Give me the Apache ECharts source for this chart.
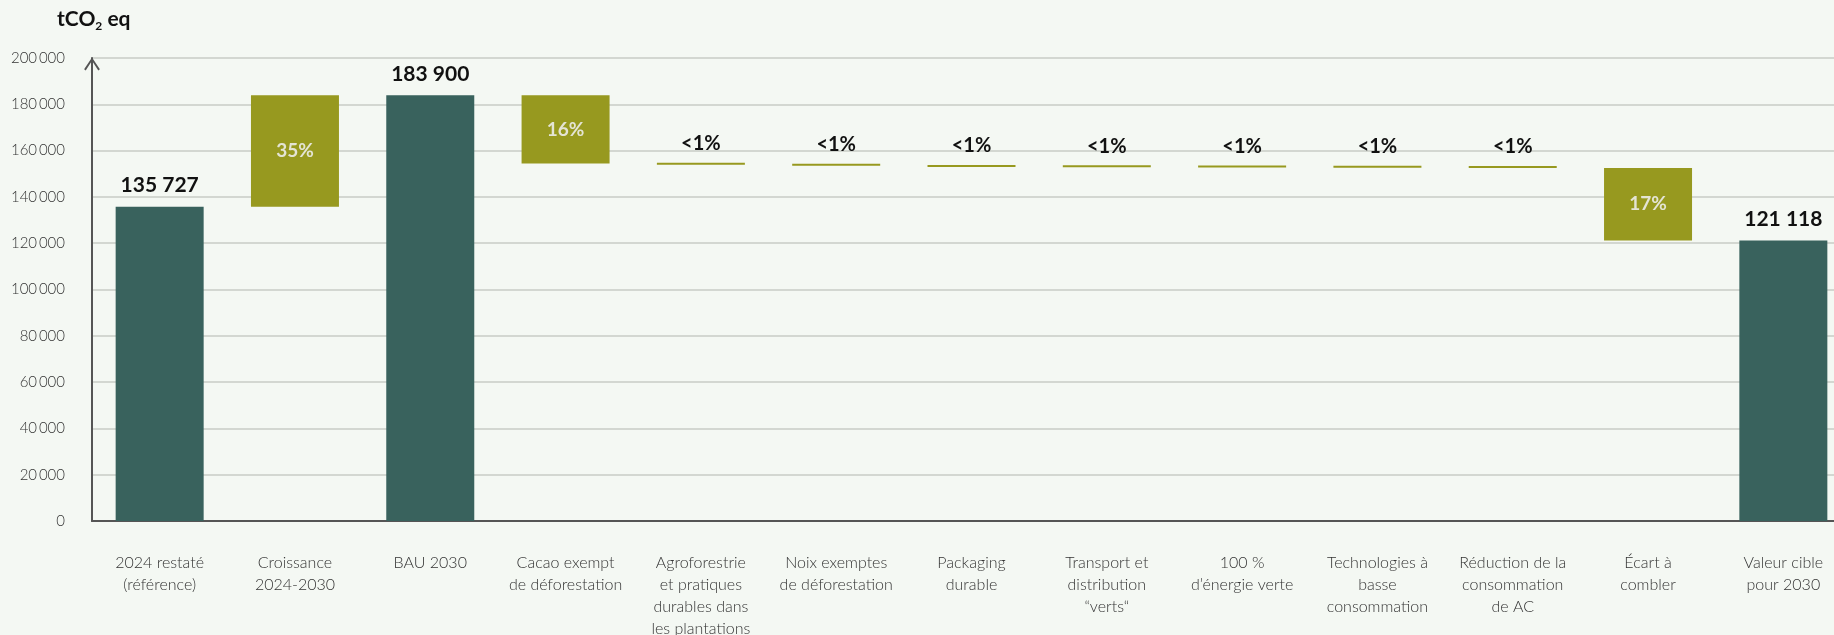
<!DOCTYPE html>
<html>
<head>
<meta charset="utf-8">
<script src="https://cdn.jsdelivr.net/npm/echarts@6/dist/echarts.min.js"></script>
<style>
  html, body { margin: 0; padding: 0; background: #f4f8f3; }
  #chart { width: 1834px; height: 635px; }
</style>
</head>
<body>
<div id="chart"></div>
<script>
// ---- Data ----
const categories = [
  '2024 restaté\n(référence)',
  'Croissance\n2024-2030',
  'BAU 2030',
  'Cacao exempt\nde déforestation',
  'Agroforestrie\net pratiques\ndurables dans\nles plantations',
  'Noix exemptes\nde déforestation',
  'Packaging\ndurable',
  'Transport et\ndistribution\n“verts“',
  '100 %\nd’énergie verte',
  'Technologies à\nbasse\nconsommation',
  'Réduction de la\nconsommation\nde AC',
  'Écart à\ncombler',
  'Valeur cible\npour 2030'
];
// kind of each step: total / increase / decrease
const kinds = ['total', 'increase', 'total', 'decrease', 'decrease', 'decrease', 'decrease',
               'decrease', 'decrease', 'decrease', 'decrease', 'decrease', 'total'];
// invisible base of each floating bar
const barBase = [0, 135727, 0, 154400, 153900, 153500, 152900, 152800, 152700, 152600, 152500, 121118, 0];
// visible height of each bar
const barHeight = [135727, 48173, 183900, 29500, 500, 400, 600, 100, 100, 100, 100, 31382, 121118];
// label texts
const barLabels = ['135 727', '35%', '183 900', '16%', '<1%', '<1%', '<1%', '<1%', '<1%', '<1%', '<1%', '17%', '121 118'];
const yTicks = [0, 20000, 40000, 60000, 80000, 100000, 120000, 140000, 160000, 180000, 200000];

// ---- Styles ----
const FONT = 'Lato, "Open Sans", sans-serif';
const TEAL = '#39625d';
const OLIVE = '#97991f';

const visibleData = barHeight.map((v, i) => {
  const isTotal = kinds[i] === 'total';
  const isBig = !isTotal && v > 5000;
  return {
    value: v,
    itemStyle: { color: isTotal ? TEAL : OLIVE },
    label: {
      show: true,
      formatter: barLabels[i],
      position: isBig ? 'inside' : 'top',
      distance: isTotal ? 11 : 9,
      color: isBig ? '#e4e4d4' : '#111111',
      fontSize: isTotal ? 21 : (isBig ? 19 : 20),
      fontWeight: 'bold',
      fontFamily: FONT
    }
  };
});

const chart = echarts.init(document.getElementById('chart'), null, { renderer: 'canvas' });
chart.setOption({
  backgroundColor: '#f4f8f3',
  animation: false,
  grid: { left: 92, top: 58, width: 1759, height: 463, containLabel: false, outerBoundsMode: 'none' },
  graphic: [{
    type: 'text',
    left: 57,
    top: 9,
    style: {
      text: '{a|tCO}{s|2}{a| eq}',
      rich: {
        a: { fontSize: 21, fontWeight: 'bold', fontFamily: FONT, fill: '#111', lineHeight: 26 },
        s: { fontSize: 12, fontWeight: 'bold', fontFamily: FONT, fill: '#111', lineHeight: 13, verticalAlign: 'bottom' }
      }
    }
  }],
  xAxis: {
    type: 'category',
    data: categories,
    axisTick: { show: false },
    axisLine: { lineStyle: { color: '#555', width: 2 } },
    axisLabel: {
      interval: 0,
      margin: 31,
      fontSize: 16,
      lineHeight: 22,
      fontWeight: 300,
      color: '#333',
      fontFamily: FONT
    }
  },
  yAxis: {
    type: 'value',
    min: yTicks[0],
    max: yTicks[yTicks.length - 1],
    interval: yTicks[1] - yTicks[0],
    axisLine: {
      show: true,
      lineStyle: { color: '#555', width: 2 },
      symbol: ['none', 'path://M8,0 L16,12 L14.4,13.2 L8,3.4 L1.6,13.2 L0,12 Z'],
      symbolSize: [16, 13],
      symbolOffset: [0, -6]
    },
    axisTick: { show: false },
    splitLine: { lineStyle: { color: '#d3d7d1', width: 2 } },
    axisLabel: {
      margin: 27,
      fontSize: 15,
      fontWeight: 300,
      color: '#333',
      fontFamily: FONT,
      formatter: v => String(v).replace(/\B(?=(\d{3})+(?!\d))/g, '\u2009')
    }
  },
  series: [
    {
      type: 'bar',
      stack: 'wf',
      data: barBase,
      itemStyle: { color: 'transparent' },
      barWidth: 88,
      silent: true
    },
    {
      type: 'bar',
      stack: 'wf',
      data: visibleData,
      barWidth: 88,
      barMinHeight: 2
    }
  ]
});
</script>
</body>
</html>
